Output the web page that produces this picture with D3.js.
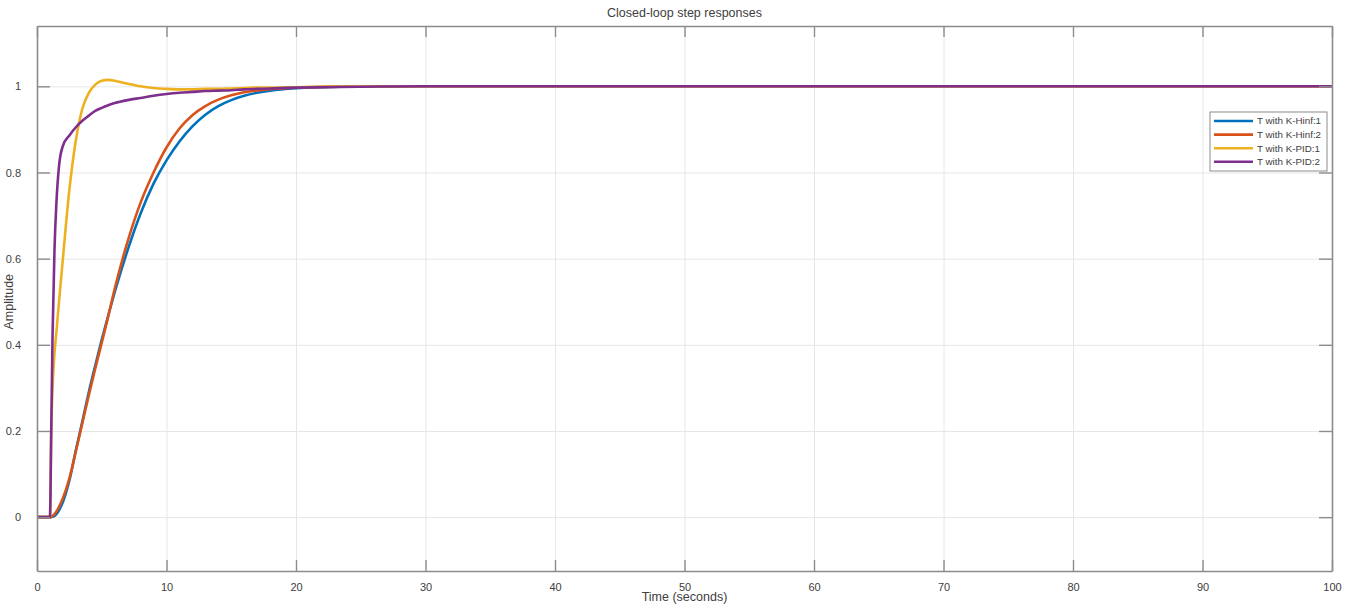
<!DOCTYPE html>
<html>
<head>
<meta charset="utf-8">
<script src="https://cdn.jsdelivr.net/npm/d3@7"></script>
<style>
  body { margin: 0; background: #fff; }
  text { font-family: Helvetica, Arial, "Liberation Sans", sans-serif; fill: #404040; }
</style>
</head>
<body>
<div id="chart"></div>
<script>
// data: common time grid (seconds) and one array per response
let time = [0, 1, 1.1, 1.2, 1.35, 1.5, 1.7, 2, 2.5, 3, 3.5, 4, 4.5, 5, 5.5, 6, 7, 8, 9, 10,
  11, 12, 13, 14, 15, 16, 17, 18, 20, 22, 25, 30, 40, 100]

let hinf1 = [0, 0, 0, 0.001, 0.003, 0.007, 0.016, 0.035, 0.085, 0.155, 0.222, 0.29, 0.352, 0.412, 0.468,
  0.522, 0.62, 0.705, 0.774, 0.828, 0.872, 0.907, 0.934, 0.954, 0.968, 0.978, 0.985, 0.99, 0.9955,
  0.998, 0.9995, 1, 1, 1]

let hinf2 = [0, 0, 0.001, 0.003, 0.007, 0.013, 0.024, 0.044, 0.09, 0.153, 0.218, 0.283, 0.345, 0.405, 0.466,
  0.53, 0.64, 0.73, 0.8, 0.858, 0.902, 0.933, 0.954, 0.969, 0.979, 0.986, 0.9905, 0.9935, 0.997,
  0.9987, 0.9997, 1, 1, 1]

let pid1 = [0, 0, 0.2, 0.3, 0.38, 0.43, 0.5, 0.6, 0.76, 0.875, 0.948, 0.985, 1.004, 1.013, 1.015,
  1.013, 1.006, 1.0, 0.996, 0.994, 0.993, 0.993, 0.994, 0.994, 0.995, 0.996, 0.997, 0.997, 0.998,
  0.999, 1, 1, 1, 1]

let pid2 = [0, 0, 0.2, 0.42, 0.62, 0.73, 0.815, 0.862, 0.886, 0.905, 0.92, 0.932, 0.943, 0.95, 0.956,
  0.961, 0.968, 0.973, 0.978, 0.982, 0.985, 0.987, 0.989, 0.99, 0.991, 0.993, 0.994, 0.995, 0.997,
  0.998, 0.999, 1, 1, 1]

let seriesNames = ['T with K-Hinf:1', 'T with K-Hinf:2', 'T with K-PID:1', 'T with K-PID:2']
let seriesColors = ['#0072BD', '#D95319', '#EDB120', '#7E2F8E']
let xTicks = [0, 10, 20, 30, 40, 50, 60, 70, 80, 90, 100]
let yTicks = [0, 0.2, 0.4, 0.6, 0.8, 1]

let margin = { top: 26, left: 37, right: 16, bottom: 33 }
let width = 1348 - margin.left - margin.right
let height = 604 - margin.top - margin.bottom

let svg = d3
  .select('#chart')
  .append('svg')
  .attr('width', 1348)
  .attr('height', 604)
  .append('g')
  .attr('transform', 'translate(' + margin.left + ',' + margin.top + ')')

let x = d3.scaleLinear().domain([0, 100]).range([0, width])
let y = d3.scaleLinear().domain([-0.125, 1.14]).range([height, 0])

// grid
svg.append('g')
  .attr('class', 'grid')
  .attr('transform', `translate(0,${height})`)
  .call(d3.axisBottom(x).tickValues(xTicks).tickSize(-height).tickFormat(''))
svg.append('g')
  .attr('class', 'grid')
  .call(d3.axisLeft(y).tickValues(yTicks).tickSize(-width).tickFormat(''))
svg.selectAll('.grid .domain').remove()
svg.selectAll('.grid line').attr('stroke', '#e6e6e6').attr('stroke-width', 1)

// lines
svg.append('clipPath').attr('id', 'clip')
  .append('rect').attr('width', width).attr('height', height)

let line = d3.line()
  .x((d, i) => x(time[i]))
  .y(d => y(d))
  .curve(d3.curveMonotoneX)

let allSeries = [hinf1, hinf2, pid1, pid2]

svg.append('g')
  .attr('clip-path', 'url(#clip)')
  .selectAll('.response')
  .data(allSeries)
  .enter()
  .append('path')
  .attr('class', 'response')
  .attr('d', d => line(d))
  .attr('fill', 'none')
  .attr('stroke', (d, i) => seriesColors[i])
  .attr('stroke-width', 2.6)
  .attr('stroke-linejoin', 'round')

// axes with inward ticks on all four sides (matlab box)
let axisColor = '#8c8c8c'
let xAxisBottom = svg.append('g')
  .attr('transform', `translate(0,${height})`)
  .call(d3.axisBottom(x).tickValues(xTicks).tickSizeInner(-11).tickSizeOuter(0).tickPadding(14))
svg.append('g')
  .call(d3.axisTop(x).tickValues(xTicks).tickSizeInner(-11).tickSizeOuter(0).tickFormat(''))
svg.append('g')
  .call(d3.axisLeft(y).tickValues(yTicks).tickSizeInner(-13).tickSizeOuter(0).tickPadding(16).tickFormat(d => d))
svg.append('g')
  .attr('transform', `translate(${width},0)`)
  .call(d3.axisRight(y).tickValues(yTicks).tickSizeInner(-13).tickSizeOuter(0).tickFormat(''))

svg.selectAll('.domain').attr('stroke', axisColor).attr('stroke-width', 1.6)
svg.selectAll('.tick line').filter(function() { return !this.closest('.grid') })
  .attr('stroke', axisColor).attr('stroke-width', 1.4)
svg.selectAll('.tick text').attr('font-size', 11).style('fill', '#404040')
xAxisBottom.selectAll('.tick text').attr('dy', '0.5em')

// title and labels
svg.append('text')
  .attr('x', width / 2)
  .attr('y', -9)
  .attr('text-anchor', 'middle')
  .attr('font-size', 12.5)
  .text('Closed-loop step responses')

svg.append('text')
  .attr('x', width / 2)
  .attr('y', height + 30)
  .attr('text-anchor', 'middle')
  .attr('font-size', 12.5)
  .text('Time (seconds)')

svg.append('text')
  .attr('transform', `translate(${-24},${y(0.5)}) rotate(-90)`)
  .attr('text-anchor', 'middle')
  .attr('font-size', 12.5)
  .text('Amplitude')

// legend
let legend = svg.append('g').attr('transform', `translate(${1210 - margin.left},${112 - margin.top})`)

legend.append('rect')
  .attr('width', 117)
  .attr('height', 59)
  .attr('fill', '#fff')
  .attr('stroke', '#8c8c8c')
  .attr('stroke-width', 1)

legend
  .selectAll('.legend-entry')
  .data(seriesNames)
  .enter()
  .append('g')
  .attr('class', 'legend-entry')
  .attr('transform', (d, i) => `translate(0,${9 + i * 13.6})`)
  .each(function(d, i) {
    let g = d3.select(this)
    g.append('line')
      .attr('x1', 4).attr('x2', 43)
      .attr('stroke', seriesColors[i])
      .attr('stroke-width', 2.6)
    g.append('text')
      .text(d)
      .attr('x', 47)
      .attr('dy', '0.35em')
      .attr('font-size', 9.8)
  })
</script>
</body>
</html>
